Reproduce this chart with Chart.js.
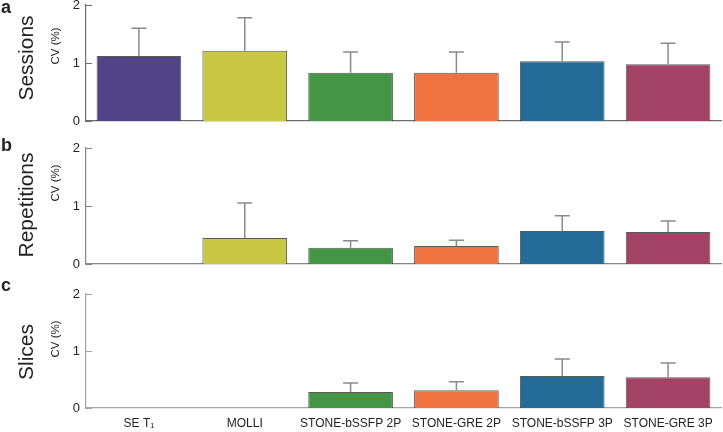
<!DOCTYPE html>
<html>
<head>
<meta charset="utf-8">
<script src="https://cdn.jsdelivr.net/npm/chart.js@4.4.1/dist/chart.umd.min.js"></script>
<style>
  body { margin: 0; background: #fff; overflow: hidden; }
  #wrap { position: relative; width: 723px; height: 432px; font-family: "Liberation Sans", Arial, sans-serif; color: #222; }
  canvas { position: absolute; left: 0; }
  .lbl { position: absolute; white-space: nowrap; transform: translate(-50%, -50%) rotate(-90deg); }
  .big { font-size: 21px; }
  .cv { font-size: 11.5px; }
  .letter { position: absolute; font-size: 18px; font-weight: bold; }
</style>
</head>
<body>
<div id="wrap">
  <canvas id="chartA" width="723" height="130" style="top:0px"></canvas>
  <canvas id="chartB" width="723" height="130" style="top:143px"></canvas>
  <canvas id="chartC" width="723" height="143" style="top:289px"></canvas>

  <div class="letter" style="left:1px; top:-3px">a</div>
  <div class="letter" style="left:1px; top:135px">b</div>
  <div class="letter" style="left:1px; top:275px">c</div>

  <div class="lbl big" style="left:26px; top:58px">Sessions</div>
  <div class="lbl big" style="left:26px; top:205px">Repetitions</div>
  <div class="lbl big" style="left:26px; top:352px">Slices</div>

  <div class="lbl cv" style="left:55px; top:46px">CV (%)</div>
  <div class="lbl cv" style="left:55px; top:183px">CV (%)</div>
  <div class="lbl cv" style="left:55px; top:339px">CV (%)</div>
</div>

<script>
// Kategorien und Werte
const categories = ['SE T\u2081', 'MOLLI', 'STONE-bSSFP 2P', 'STONE-GRE 2P', 'STONE-bSSFP 3P', 'STONE-GRE 3P'];
const barColors = ['#524489', '#c8c845', '#449646', '#ee7340', '#246c97', '#a24264'];
const yTicks = [0, 1, 2];

const sessionsCV  = [1.12, 1.21, 0.83, 0.83, 1.03, 0.98];
const sessionsErr = [1.60, 1.78, 1.19, 1.19, 1.36, 1.34];

const repetitionsCV  = [null, 0.45, 0.28, 0.31, 0.57, 0.55];
const repetitionsErr = [null, 1.05, 0.40, 0.41, 0.83, 0.74];

const slicesCV  = [null, null, 0.28, 0.31, 0.56, 0.54];
const slicesErr = [null, null, 0.44, 0.46, 0.86, 0.79];

// Fehlerbalken und nach innen zeigende y-Ticks
const errorBarPlugin = {
  id: 'errorBars',
  afterDatasetsDraw(chart, args, opts) {
    const ctx = chart.ctx;
    const y = chart.scales.y;
    const area = chart.chartArea;
    ctx.save();
    // y ticks nach innen
    ctx.strokeStyle = opts.axisColor;
    ctx.lineWidth = 1;
    yTicks.forEach(function(v) {
      const py = Math.round(y.getPixelForValue(v)) + 0.5;
      ctx.beginPath();
      ctx.moveTo(area.left, py);
      ctx.lineTo(area.left + 6, py);
      ctx.stroke();
    });
    // Fehlerbalken
    const meta = chart.getDatasetMeta(0);
    ctx.strokeStyle = '#8a8a8a';
    ctx.lineWidth = 1.5;
    meta.data.forEach(function(bar, i) {
      const e = opts.errors[i];
      if (e == null || chart.data.datasets[0].data[i] == null) return;
      const top = y.getPixelForValue(e);
      ctx.beginPath();
      ctx.moveTo(bar.x, bar.y);
      ctx.lineTo(bar.x, top);
      ctx.moveTo(bar.x - 7.5, top);
      ctx.lineTo(bar.x + 7.5, top);
      ctx.stroke();
    });
    ctx.restore();
  }
};

function makePanel(id, values, errors, axisColor, showLabels, padBottom) {
  const ctx = document.getElementById(id).getContext('2d');
  return new Chart(ctx, {
    type: 'bar',
    data: {
      labels: categories,
      datasets: [{
        data: values,
        backgroundColor: barColors,
        borderColor: 'rgba(0,0,0,0.65)',
        borderWidth: 1,
        borderSkipped: 'bottom',
        barPercentage: 0.8,
        categoryPercentage: 1.0
      }]
    },
    options: {
      responsive: false,
      maintainAspectRatio: false,
      animation: false,
      layout: { padding: { top: 5, bottom: padBottom, left: 0, right: 2 } },
      plugins: {
        legend: { display: false },
        tooltip: { enabled: false },
        errorBars: { errors: errors, axisColor: axisColor }
      },
      scales: {
        x: {
          grid: { display: false, drawTicks: false },
          border: { display: true, color: axisColor, width: 1.2 },
          ticks: {
            display: showLabels,
            autoSkip: false,
            maxRotation: 0,
            minRotation: 0,
            padding: 8,
            color: '#222',
            font: { family: 'Liberation Sans, Arial, sans-serif', size: 12 }
          },
          afterFit: function(scale) {
            scale.height = showLabels ? 24 : 0;
            scale.paddingLeft = 0;
            scale.paddingRight = 0;
          }
        },
        y: {
          min: 0,
          max: 2,
          grid: { display: false, drawTicks: false },
          border: { display: true, color: axisColor, width: 1.2 },
          afterBuildTicks: function(scale) {
            scale.ticks = yTicks.map(function(v) { return { value: v }; });
          },
          ticks: {
            padding: 6,
            color: '#222',
            font: { family: 'Liberation Sans, Arial, sans-serif', size: 13 },
            callback: function(value) { return value; }
          },
          afterFit: function(scale) {
            scale.width = 86;
            scale.paddingTop = 0;
            scale.paddingBottom = 0;
          }
        }
      }
    },
    plugins: [errorBarPlugin]
  });
}

makePanel('chartA', sessionsCV, sessionsErr, '#6e6e6e', false, 9);
makePanel('chartB', repetitionsCV, repetitionsErr, '#858585', false, 9);
makePanel('chartC', slicesCV, slicesErr, '#a5a5a5', true, 0);
</script>
</body>
</html>
